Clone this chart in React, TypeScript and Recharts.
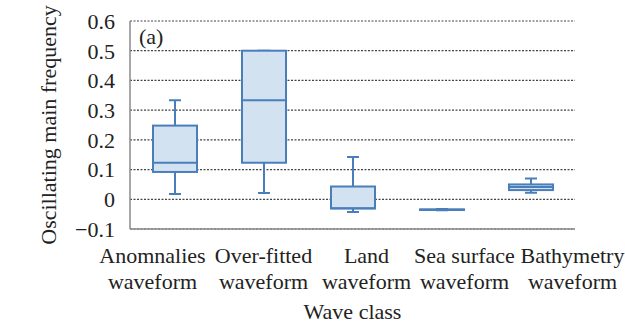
import { ComposedChart, Bar, XAxis, YAxis, CartesianGrid, Label } from 'recharts';

// Wave classes and their box-plot statistics
const waveClasses = [
  'Anomnalies\nwaveform',
  'Over-fitted\nwaveform',
  'Land\nwaveform',
  'Sea surface\nwaveform',
  'Bathymetry\nwaveform',
];
const minValues = [0.018, 0.021, -0.043, -0.037, 0.022];
const q1Values = [0.092, 0.123, -0.031, -0.036, 0.031];
const medianValues = [0.123, 0.333, -0.03, -0.035, 0.041];
const q3Values = [0.248, 0.5, 0.043, -0.034, 0.05];
const maxValues = [0.333, 0.5, 0.142, -0.033, 0.07];
const yTicks = [-0.1, 0, 0.1, 0.2, 0.3, 0.4, 0.5, 0.6];

const FONT = '"Liberation Serif", "Times New Roman", serif';
const FONT_SIZE = 22;
const STROKE = '#4a7ebb';
const FILL = '#d2e2f1';
// category labels are spread wider than the boxes themselves
const labelShift = [-22, 0, 14, 23, 42];

const chartData = waveClasses.map((name, i) => ({
  name,
  range: [minValues[i], maxValues[i]],
  min: minValues[i],
  q1: q1Values[i],
  median: medianValues[i],
  q3: q3Values[i],
  max: maxValues[i],
}));

const formatTick = (v: number) => (v === 0 ? '0' : v.toFixed(1).replace('-', '\u2212'));

// Box + whiskers drawn inside the pixel span of the [min, max] range bar
const BoxShape = (props: any) => {
  const { x, y, width, height, payload } = props;
  const top = Math.min(y, y + height);
  const bottom = Math.max(y, y + height);
  const span = payload.max - payload.min;
  const toPx = (v: number) => (span === 0 ? top : top + ((payload.max - v) / span) * (bottom - top));
  const cx = x + width / 2;
  const cap = 6;
  const yQ1 = toPx(payload.q1);
  const yQ3 = toPx(payload.q3);
  const yMed = toPx(payload.median);
  return (
    <g stroke={STROKE} strokeWidth={2}>
      <line x1={cx} x2={cx} y1={top} y2={yQ3} />
      <line x1={cx} x2={cx} y1={yQ1} y2={bottom} />
      <line x1={cx - cap} x2={cx + cap} y1={top} y2={top} />
      <line x1={cx - cap} x2={cx + cap} y1={bottom} y2={bottom} />
      <rect x={x} y={yQ3} width={width} height={Math.max(yQ1 - yQ3, 0.5)} fill={FILL} />
      <line x1={x} x2={x + width} y1={yMed} y2={yMed} />
    </g>
  );
};

const CategoryTick = (props: any) => {
  const { x, y, payload, index } = props;
  const lines = String(payload.value).split('\n');
  const lx = x + (labelShift[index] ?? 0);
  return (
    <text x={lx} y={y} textAnchor="middle" fontFamily={FONT} fontSize={FONT_SIZE} fill="#222">
      {lines.map((line, i) => (
        <tspan key={i} x={lx} dy={26}>
          {line}
        </tspan>
      ))}
    </text>
  );
};

export default function App() {
  return (
    <div style={{ position: 'absolute', left: 0, top: 0, width: 625, height: 324, background: '#fff' }}>
      <ComposedChart
        width={625}
        height={324}
        data={chartData}
        margin={{ top: 21, right: 50, left: 30, bottom: 0 }}
      >
        <CartesianGrid vertical={false} stroke="#444" strokeDasharray="2 1.5" strokeWidth={1.2} />
        <XAxis
          dataKey="name"
          tick={<CategoryTick />}
          tickLine={false}
          axisLine={{ stroke: '#8a8a8a', strokeWidth: 1.5 }}
          height={95}
          interval={0}
        >
          <Label
            value="Wave class"
            position="insideBottom"
            offset={5}
            style={{ fontFamily: FONT, fontSize: FONT_SIZE, fill: '#222' }}
          />
        </XAxis>
        <YAxis
          domain={[-0.1, 0.6]}
          ticks={yTicks}
          interval={0}
          tickFormatter={formatTick}
          tickLine={false}
          tickSize={6}
          tickMargin={9}
          axisLine={{ stroke: '#8a8a8a', strokeWidth: 1.5 }}
          tick={{ fontFamily: FONT, fontSize: FONT_SIZE, fill: '#222' }}
          width={100}
          allowDataOverflow
        >
          <Label
            value="Oscillating main frequency"
            angle={-90}
            position="insideLeft"
            offset={18}
            style={{ fontFamily: FONT, fontSize: FONT_SIZE, fill: '#222', textAnchor: 'middle' }}
          />
        </YAxis>
        <Bar dataKey="range" barSize={44} shape={<BoxShape />} isAnimationActive={false} />
        <text x={139} y={44} fontFamily={FONT} fontSize={FONT_SIZE} fill="#222">
          (a)
        </text>
      </ComposedChart>
    </div>
  );
}
